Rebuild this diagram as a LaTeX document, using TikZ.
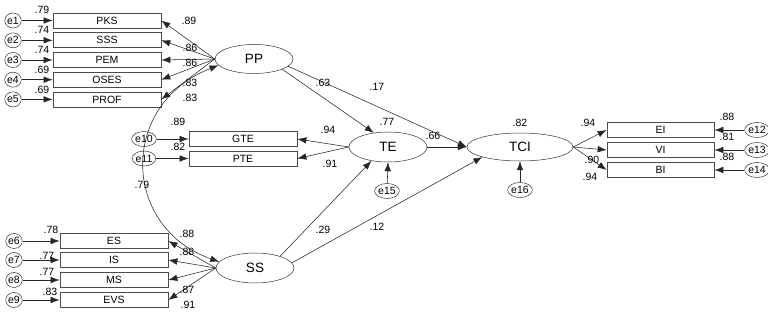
\documentclass[tikz,border=0pt]{standalone}
\usepackage{fontspec}
\setmainfont{Liberation Sans}
\usetikzlibrary{arrows.meta,shapes.geometric}
\begin{document}
\begin{tikzpicture}[x=1pt,y=-1pt,
  obs/.style={draw=black!70,line width=0.7pt,rectangle,minimum width=108pt,minimum height=15pt,inner sep=0pt,font=\fontsize{10.5}{10.5}\selectfont},
  lat/.style={draw=black!80,line width=0.5pt,ellipse,minimum width=78pt,minimum height=29pt,inner sep=0pt,font=\fontsize{13.5}{13.5}\selectfont},
  err/.style={draw=black!80,line width=0.5pt,ellipse,minimum width=16pt,minimum height=15pt,inner sep=0pt,font=\fontsize{10.5}{10.5}\selectfont},
  lbl/.style={inner sep=0pt,font=\fontsize{10.5}{10.5}\selectfont},
  arr/.style={draw=black!85,line width=0.55pt,-{Latex[length=9pt,width=6.5pt]}},
  cov/.style={draw=black!85,line width=0.55pt,{Latex[length=9pt,width=6.5pt]}-{Latex[length=9pt,width=6.5pt]}}]
\useasboundingbox (0,0) rectangle (768,312);
% latent
\node[lat] (PP) at (254,59) {PP};
\node[lat,minimum height=30pt] (TE) at (388,147) {TE};
\node[lat,minimum height=30pt] (SS) at (255,268) {SS};
\node[lat,minimum width=106pt,minimum height=28pt] (TCI) at (520,147) {TCI};
% PP indicators
\node[obs] (PKS) at (107,20.5) {PKS};
\node[obs] (SSS) at (107,40.3) {SSS};
\node[obs] (PEM) at (107,60) {PEM};
\node[obs] (OSES) at (107,79.7) {OSES};
\node[obs] (PROF) at (107,99.4) {PROF};
\node[err] (e1) at (13,20.5) {e1};
\node[err] (e2) at (13,40.3) {e2};
\node[err] (e3) at (13,60) {e3};
\node[err] (e4) at (13,79.7) {e4};
\node[err] (e5) at (13,99.4) {e5};
\foreach \e/\b in {e1/PKS,e2/SSS,e3/PEM,e4/OSES,e5/PROF}{\draw[arr] (\e) -- (\b.west);}
\foreach \b in {PKS,SSS,PEM,OSES,PROF}{\draw[arr] (PP.west) -- (\b.east);}
\node[lbl] (r1) at (42,10) {.79};
\node[lbl] (r2) at (42,30) {.74};
\node[lbl] (r3) at (42,50) {.74};
\node[lbl] (r4) at (42,70) {.69};
\node[lbl] (r5) at (42,90) {.69};
\node[lbl] (l1) at (189,21) {.89};
\node[lbl] (l2) at (190,48) {.86};
\node[lbl] (l3) at (190,63) {.86};
\node[lbl] (l4) at (190,83) {.83};
\node[lbl] (l5) at (190,98) {.83};
% TE indicators
\node[obs] (GTE) at (243,139) {GTE};
\node[obs] (PTE) at (243,158.5) {PTE};
\node[err] (e10) at (144,139) {e10};
\node[err] (e11) at (144,158.5) {e11};
\draw[arr] (e10) -- (GTE.west);
\draw[arr] (e11) -- (PTE.west);
\draw[arr] (TE.west) -- (GTE.east);
\draw[arr] (TE.west) -- (PTE.east);
\node[lbl] (r10) at (178,122) {.89};
\node[lbl] (r11) at (178,147) {.82};
\node[lbl] (lgte) at (328,130) {.94};
\node[lbl] (lpte) at (330,164) {.91};
\node[err] (e15) at (387,191) {e15};
\draw[arr] (e15) -- (TE.south);
\node[lbl] (rte) at (387,122) {.77};
% SS indicators
\node[obs] (ES) at (114,241) {ES};
\node[obs] (IS) at (114,260) {IS};
\node[obs] (MS) at (114,280) {MS};
\node[obs] (EVS) at (114,300) {EVS};
\node[err] (e6) at (14,241) {e6};
\node[err] (e7) at (14,260) {e7};
\node[err] (e8) at (14,280) {e8};
\node[err] (e9) at (14,300) {e9};
\foreach \e/\b in {e6/ES,e7/IS,e8/MS,e9/EVS}{\draw[arr] (\e) -- (\b.west);}
\foreach \b in {ES,IS,MS,EVS}{\draw[arr] (SS.west) -- (\b.east);}
\node[lbl] (r6) at (51,230) {.78};
\node[lbl] (r7) at (47,256) {.77};
\node[lbl] (r8) at (47,272) {.77};
\node[lbl] (r9) at (50,292) {.83};
\node[lbl] (l6) at (187,234) {.88};
\node[lbl] (l7) at (187,252) {.88};
\node[lbl] (l8) at (187,290) {.87};
\node[lbl] (l9) at (188,305) {.91};
% covariance
\draw[cov] (PP.190) .. controls (118,105) and (122,228) .. (SS.170);
\node[lbl] (cv) at (142,185) {.79};
% structural paths
\draw[arr] (PP.-20) -- (TE.135);
\draw[arr] (PP.-12) -- (TCI.west);
\draw[arr] (SS.25) -- (TE.220);
\draw[arr] (SS.8) -- (TCI.195);
\draw[arr] (TE.east) -- (TCI.west);
\node[lbl] (p1) at (323,83) {.63};
\node[lbl] (p2) at (377,87) {.17};
\node[lbl] (p3) at (433,136) {.66};
\node[lbl] (p4) at (323,230) {.29};
\node[lbl] (p5) at (377,227) {.12};
% TCI
\node[err] (e16) at (520,190) {e16};
\draw[arr] (e16) -- (TCI.south);
\node[lbl] (rtci) at (520,123) {.82};
\node[obs,minimum width=107pt] (EI) at (660.5,130) {EI};
\node[obs,minimum width=107pt] (VI) at (660.5,150) {VI};
\node[obs,minimum width=107pt] (BI) at (660.5,170) {BI};
\node[err] (e12) at (757,130) {e12};
\node[err] (e13) at (757,150) {e13};
\node[err] (e14) at (757,170) {e14};
\foreach \e/\b in {e12/EI,e13/VI,e14/BI}{\draw[arr] (\e) -- (\b.east);}
\draw[arr] (TCI.east) -- (EI.west);
\draw[arr] (TCI.east) -- (VI.west);
\draw[arr] (TCI.east) -- (BI.west);
\node[lbl] (lei) at (588,123) {.94};
\node[lbl] (lvi) at (592,160) {.90};
\node[lbl] (lbi) at (590,177) {.94};
\node[lbl] (r12) at (727,117) {.88};
\node[lbl] (r13) at (727,137) {.81};
\node[lbl] (r14) at (727,157) {.88};
\end{tikzpicture}
\end{document}
